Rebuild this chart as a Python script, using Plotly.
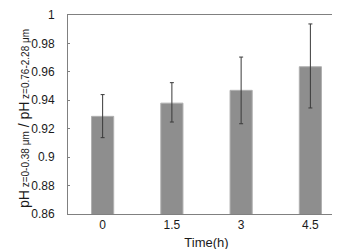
import plotly.graph_objects as go

categories = ["0", "1.5", "3", "4.5"]
values = [0.9287, 0.938, 0.947, 0.9636]
err_plus = [0.0153, 0.0144, 0.0234, 0.0301]
err_minus = [0.0150, 0.0133, 0.0235, 0.0290]
y_ticks = [0.86, 0.88, 0.9, 0.92, 0.94, 0.96, 0.98, 1]
y_ticklabels = ["0.86", "0.88", "0.9", "0.92", "0.94", "0.96", "0.98", "1"]
y_title = ('pH<span style="font-size:10px"> z=0-0.38 μm</span> / '
           'pH<span style="font-size:10px"> z=0.76-2.28 μm</span>')

W, H = 340, 249
L, R, T, B = 60, 3, 7, 43

fig = go.Figure()
fig.add_trace(go.Bar(
    x=categories, y=values,
    marker=dict(color="#8e8e8e", line=dict(color="#b0b0b0", width=1)),
    error_y=dict(type="data", symmetric=False, array=err_plus, arrayminus=err_minus,
                 color="#3a3a3a", thickness=1, width=2),
))

fig.update_layout(
    width=W, height=H,
    margin=dict(l=L, r=R, t=T, b=B),
    paper_bgcolor="white", plot_bgcolor="white",
    font=dict(family="Liberation Sans, Arial, sans-serif", color="#1a1a1a", size=12),
    bargap=0.68,
    showlegend=False,
    xaxis=dict(
        showline=True, linecolor="#808080", linewidth=1, mirror=True,
        ticks="", tickfont=dict(size=12),
        title=dict(text="Time(h)", font=dict(size=13), standoff=6),
        automargin=False,
    ),
    yaxis=dict(
        range=[0.86, 1], tickvals=y_ticks, ticktext=y_ticklabels,
        showline=True, linecolor="#808080", linewidth=1, mirror=True,
        ticks="inside", ticklen=2, tickcolor="#808080",
        ticklabelstandoff=10,
        showgrid=False, zeroline=False, tickfont=dict(size=12),
        automargin=False,
    ),
)

plot_h = H - T - B
fig.add_annotation(
    text=y_title, textangle=-90, showarrow=False,
    xref="paper", yref="paper",
    x=(16 - L) / (W - L - R), y=(H - B - 111) / plot_h,
    xanchor="center", yanchor="middle",
    font=dict(size=14, color="#1a1a1a"),
)

fig.write_html("out.html")
